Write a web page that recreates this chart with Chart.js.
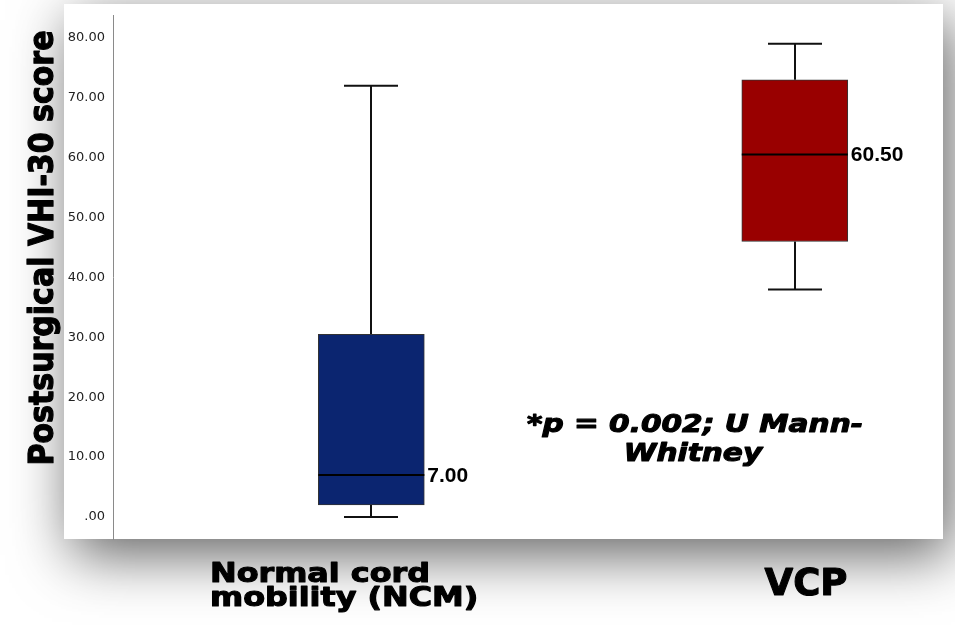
<!DOCTYPE html>
<html>
<head>
<meta charset="utf-8">
<script src="https://cdn.jsdelivr.net/npm/chart.js@4.4.0/dist/chart.umd.min.js"></script>
<style>
  body { margin: 0; background: #fff; overflow: hidden; }
  #wrap { position: relative; width: 955px; height: 625px; }
  #panel { position: absolute; left: 64px; top: 4px; width: 879px; height: 535px; background: #fff;
           box-shadow: 8px 16px 55px 0 rgba(0,0,0,0.62); }
  #chart { position: absolute; left: 0; top: 0; }
</style>
</head>
<body>
<div id="wrap">
  <div id="panel"></div>
  <canvas id="chart" width="955" height="625"></canvas>
</div>
<script>
// box plot values
const groups = ['Normal cord mobility (NCM)', 'VCP']
const positions = [1, 2]
const mins = [0, 38]
const q1s = [2, 46]
const medians = [7, 60.5]
const q3s = [30.5, 73]
const maxs = [72, 79]
const boxColors = ['#0b2570', '#990000']
const yTicks = [0, 10, 20, 30, 40, 50, 60, 70, 80]

const fmtTick = v => v === 0 ? '.00' : v.toFixed(2)

// heavy text, stretched to a given width
const fitText = (ctx, str, x, y, font, width, align, sy) => {
    ctx.save()
    ctx.font = font
    const w = ctx.measureText(str).width
    ctx.translate(x, y)
    ctx.scale(width / w, sy || 1)
    ctx.textAlign = align
    ctx.textBaseline = 'alphabetic'
    ctx.lineWidth = 1.1
    ctx.lineJoin = 'round'
    ctx.strokeStyle = '#000'
    ctx.fillText(str, 0, 0)
    ctx.strokeText(str, 0, 0)
    ctx.restore()
}

const boxPlugin = {
    id: 'boxParts',
    beforeDatasetsDraw(chart) {
        const ctx = chart.ctx
        const xs = chart.scales.x, ys = chart.scales.y
        ctx.save()
        ctx.strokeStyle = '#111'
        ctx.lineWidth = 2
        positions.forEach((p, i) => {
            const cx = Math.round(xs.getPixelForValue(p))
            const capHalf = 27
            ctx.beginPath()
            ctx.moveTo(cx, ys.getPixelForValue(q3s[i]))
            ctx.lineTo(cx, ys.getPixelForValue(maxs[i]))
            ctx.moveTo(cx, ys.getPixelForValue(q1s[i]))
            ctx.lineTo(cx, ys.getPixelForValue(mins[i]))
            ctx.moveTo(cx - capHalf, ys.getPixelForValue(maxs[i]))
            ctx.lineTo(cx + capHalf, ys.getPixelForValue(maxs[i]))
            ctx.moveTo(cx - capHalf, ys.getPixelForValue(mins[i]))
            ctx.lineTo(cx + capHalf, ys.getPixelForValue(mins[i]))
            ctx.stroke()
        })
        ctx.restore()
    },
    afterDatasetsDraw(chart) {
        const ctx = chart.ctx
        const ys = chart.scales.y
        const bars = chart.getDatasetMeta(0).data
        ctx.save()
        bars.forEach((bar, i) => {
            const half = bar.width / 2
            const my = ys.getPixelForValue(medians[i])
            ctx.strokeStyle = '#000'
            ctx.lineWidth = 2
            ctx.beginPath()
            ctx.moveTo(bar.x - half, my)
            ctx.lineTo(bar.x + half, my)
            ctx.stroke()
            ctx.fillStyle = '#000'
            ctx.font = 'bold 21px "Liberation Sans", Arial, sans-serif'
            ctx.textAlign = 'left'
            ctx.textBaseline = 'middle'
            ctx.fillText(medians[i].toFixed(2), bar.x + half + 3, my + 1)
        })
        ctx.restore()
    },
    afterDraw(chart) {
        const ctx = chart.ctx
        ctx.save()
        ctx.fillStyle = '#000'
        // y axis title, rotated
        ctx.save()
        ctx.translate(53, 248)
        ctx.rotate(-Math.PI / 2)
        fitText(ctx, 'Postsurgical VHI-30 score', 0, 0, 'bold 30px "DejaVu Sans"', 435, 'center', 1.14)
        ctx.restore()

        // category labels
        const catFont = 'bold 27px "DejaVu Sans"'
        ctx.font = catFont
        const w1 = ctx.measureText('Normal cord').width
        const w2 = ctx.measureText('mobility (NCM)').width
        const s1 = 220 / w1
        fitText(ctx, 'Normal cord', 210, 582, catFont, w1 * s1, 'left')
        fitText(ctx, 'mobility (NCM)', 210, 606, catFont, w2 * s1, 'left')
        fitText(ctx, groups[1], 806, 595, 'bold 37px "DejaVu Sans"', 83, 'center')

        // test annotation
        const annFont = 'italic bold 25px "DejaVu Sans"'
        ctx.font = annFont
        const wa = ctx.measureText('*p = 0.002; U Mann-').width
        const wb = ctx.measureText('Whitney').width
        const s2 = 336 / wa
        fitText(ctx, '*p = 0.002; U Mann-', 695, 432, annFont, 336, 'center')
        fitText(ctx, 'Whitney', 693, 461, annFont, wb * s2, 'center')
        ctx.restore()
    }
}

new Chart(document.getElementById('chart'), {
    type: 'bar',
    data: {
        datasets: [{
            data: positions.map((p, i) => ({ x: p, y: [q1s[i], q3s[i]] })),
            backgroundColor: boxColors,
            borderColor: '#333',
            borderWidth: 1,
            borderSkipped: false,
            barThickness: 106
        }]
    },
    options: {
        responsive: false,
        animation: false,
        layout: { autoPadding: false, padding: { top: 10, right: 12, bottom: 86, left: 0 } },
        plugins: { legend: { display: false }, tooltip: { enabled: false } },
        scales: {
            x: { type: 'linear', min: 0.39, max: 2.35, offset: false, display: false },
            y: {
                min: -3.67,
                max: 83.67,
                afterBuildTicks: axis => { axis.ticks = yTicks.map(v => ({ value: v })) },
                afterFit: axis => { axis.width = 113 },
                grid: { display: false, drawTicks: false },
                border: { display: true, color: '#8a8a8a', width: 1 },
                ticks: {
                    padding: 8,
                    color: '#222',
                    font: { family: 'DejaVu Sans', size: 13 },
                    callback: v => fmtTick(v)
                }
            }
        }
    },
    plugins: [boxPlugin]
})
</script>
</body>
</html>
